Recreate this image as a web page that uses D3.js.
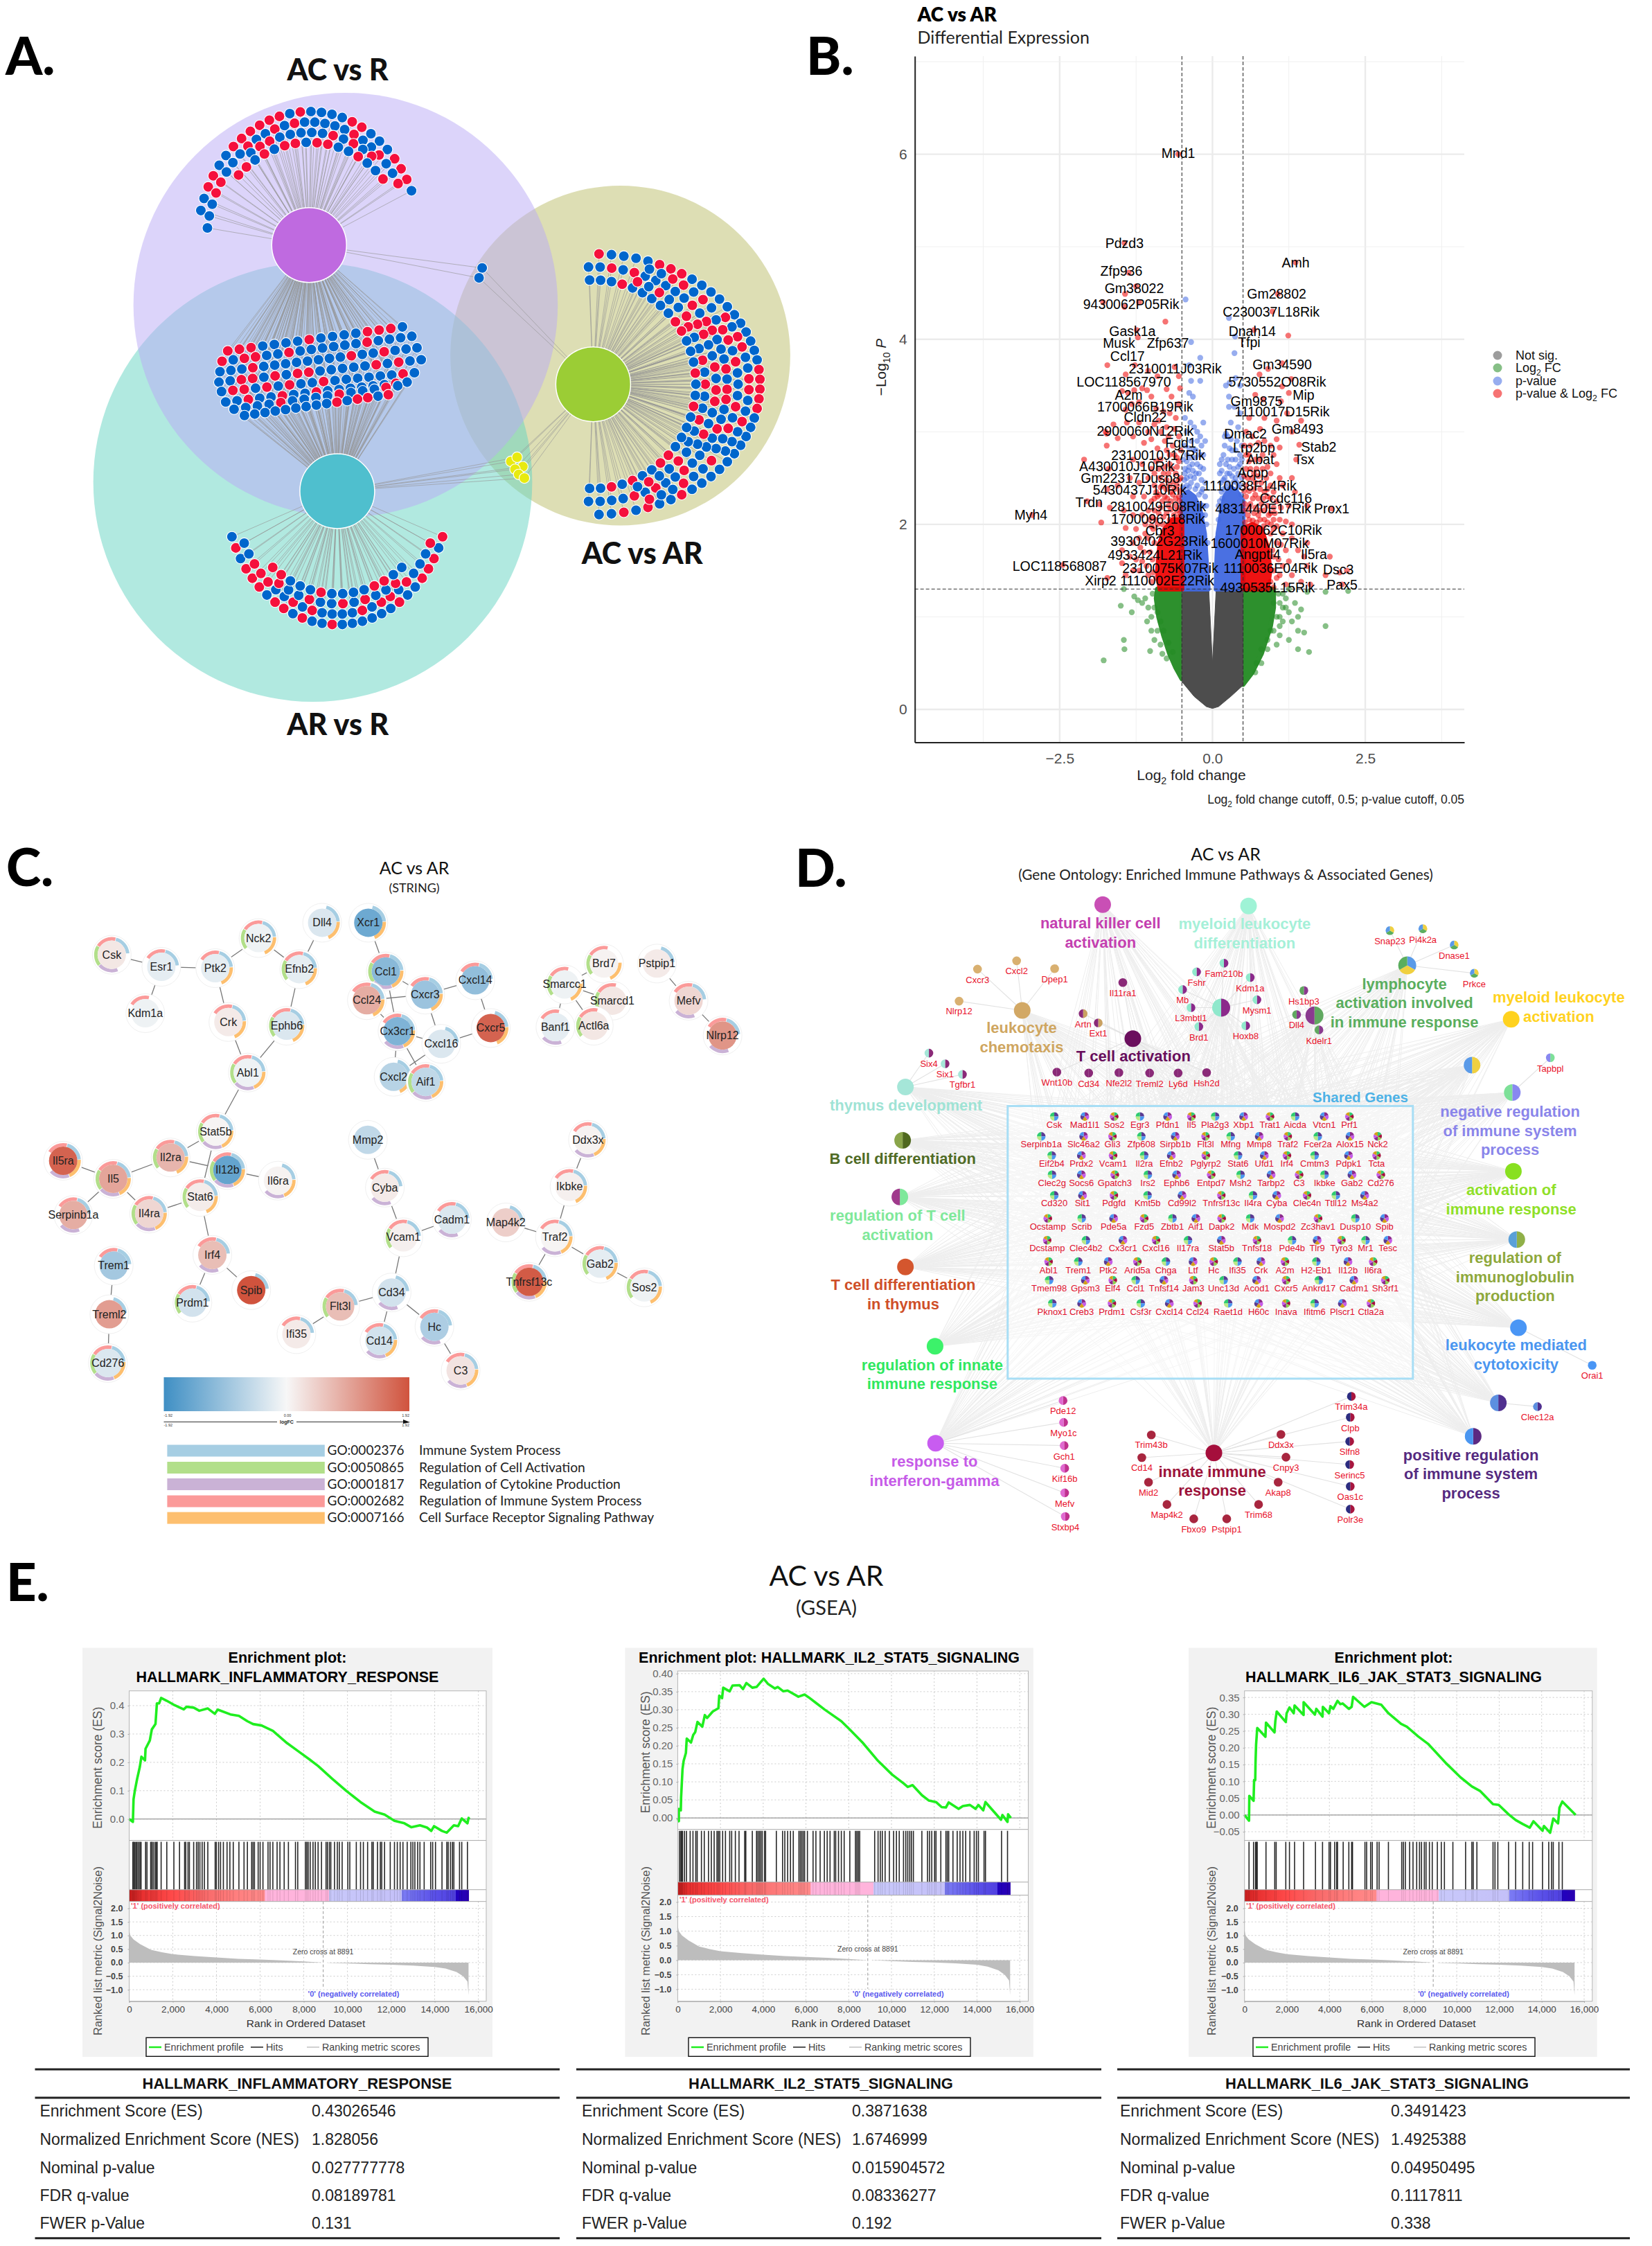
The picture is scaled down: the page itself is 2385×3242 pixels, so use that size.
<!DOCTYPE html>
<html><head><meta charset="utf-8">
<script src="https://cdn.jsdelivr.net/npm/d3@7"></script>
<style>html,body{margin:0;background:#fff}svg{display:block}text{font-family:"Liberation Sans",sans-serif}</style>
</head><body><svg id="c" width="2385" height="3242" viewBox="0 0 2385 3242"></svg>
<script>
// ---------- Panel A : up (R) / down (B) genes in each set ----------
const acrCrescent=["BBRRBBRRRRRRBRBBBBRRBBBRRRB","BBBRRBBBRBBRBRBBBBBRBBRBBR","BRRBBBBBRBRBR","RRBRBRRBRRBBRBBR"];
const sharedBlob=["RRRBBBBRBBBBRRRB","RBRRBBRBBBBBBRBBBB","BBBRBBBBBBBBRBBRBBB","BBRRBRBRRBBBBBRBRBB","BRRBRBRBBRBBBBBBRB","BBRBBRBBRBBBBBBRB","BBBBRBBBBRBBBRB","BBBBBBBBBRBRRBR"];
const arrCrescent=["BRBRRRBRRBRBBRBBBBBBRBBRRRBR","BBRRRBBRBRBBBBRBRRBRBBBR","RBBRBBRBRBBR","RRBBBRBBBBRRBB"];
const acarCrescent=["RBBBBRRRBBBBBBBBBBBRRRRRBBBBBBBBBBRBBRBRBB","RBRRBBRRBBRBBB","BRRBRBBBRBRBB","BBRBRBBBBBRBRRBBBRBRRBBRBBBBRBBRBRBBBB","RRBBRBRRBBRB","RBBRBRBBRBB","BBBRBBBBBRRBBBRBBRBBBBRRBBRBRBB","BBRRBRB","RBBRBBR","RBRBBR","BRBBRB"];
const yellowNodes=[[980,885],[992,877],[1003,895],[988,900],[995,910],[1006,917]];
const bluePairNodes=[[925,514],[919,533]];
const setTitles=[["AC vs R",648,134],["AR vs R",648,1390],["AC vs AR",1232,1062]];

// ---------- Panel B : volcano ----------
const volcanoRed=[[-.56,6.0],[-1.44,5.04],[1.36,4.83],[-1.37,4.72],[-1.25,4.57],[-1.43,4.49],[-1.79,4.40],[-1.44,4.35],[-1.2,4.4],[-.77,4.19],[-1.24,4.1],[-1.22,4.02],[-1.72,3.72],[-1.42,3.62],[-1.27,3.72],[-1.05,3.66],[-.9,3.6],[-.62,3.7],[-.55,3.6],[-.53,3.47],[-1.48,3.44],[-1.38,3.42],[-1.28,3.45],[-1.15,3.47],[-1.07,3.45],[-.75,3.46],[-.67,3.38],[-1.42,3.24],[-1.32,3.3],[-1.2,3.32],[-1.0,3.38],[-.92,3.25],[-.8,3.22],[-1.62,3.08],[-1.75,3.0],[-1.4,3.1],[-1.2,3.1],[-1.05,3.0],[-.95,3.08],[-.88,3.12],[-.75,3.05],[-.62,3.03],[-1.73,2.98],[-1.55,2.93],[-1.3,2.95],[-1.12,2.88],[-1.0,2.92],[-.9,2.82],[-.78,2.9],[-.65,2.85],[-1.73,2.85],[-2.1,2.7],[-1.7,2.6],[-1.3,2.7],[-1.15,2.65],[-1.0,2.6],[-.85,2.7],[-.7,2.65],[-.58,2.72],[-1.35,2.5],[-1.2,2.45],[-1.05,2.5],[-.95,2.42],[-.8,2.55],[-1.72,2.38],[-1.55,2.42],[-1.3,2.3],[-1.12,2.3],[-1.0,2.25],[-2.05,2.25],[-1.85,2.22],[-1.68,2.18],[-1.45,2.15],[-1.3,2.1],[-1.15,2.1],[-1.82,2.02],[-1.42,1.96],[-1.25,1.95],[-1.1,1.9],[-1.0,1.98],[-1.3,1.8],[-1.18,1.75],[-1.48,1.72],[-1.35,1.65],[-1.15,1.6],[-1.02,1.7],[-1.48,1.58],[-1.2,1.5],[-1.05,1.45],[-1.0,1.38],[-2.45,1.56],[-1.72,1.42],[-2.95,2.1],[-1.42,1.45],
[-.55,3.3],[-.6,3.15],[-.7,3.2],[-.85,3.0],[-.72,2.95],[-.55,2.95],[-.62,2.75],[-.75,2.8],[-.88,2.6],[-.72,2.55],[-.6,2.55],[-.52,2.8],[-.95,2.55],[-.82,2.42],[-.7,2.42],[-.58,2.42],[-.52,2.5],[-.9,2.3],[-.78,2.3],[-.65,2.32],[-.55,2.3],[-1.05,2.15],[-.95,2.15],[-.85,2.18],[-.72,2.2],[-.6,2.2],[-.52,2.18],[-1.1,2.0],[-.98,2.08],[-.9,2.0],[-.8,2.08],[-.7,2.05],[-.55,2.08],[-1.2,1.85],[-1.05,1.85],[-.95,1.8],[-1.12,1.7],[-.98,1.62],[-1.08,1.55],[-.97,1.48],[-.92,1.42],[-1.25,1.62],[-1.3,1.5],
[-.53,2.12],[-.58,2.15],[-.63,2.1],[-.68,2.16],[-.75,2.12],[-.82,2.0],[-.88,2.12],[-.93,2.05],[-.97,1.95],[-1.03,2.05],[-.54,2.25],[-.6,2.28],[-.68,2.25],[-.74,2.28],[-.82,2.25],[-.87,2.32],[-.95,2.28],[-.53,2.36],[-.62,2.38],[-.68,2.35],[-.76,2.38],[-.85,2.4],[-.92,2.35],[-.55,2.48],[-.64,2.46],[-.75,2.48],[-.86,2.5],[-.58,2.62],[-.66,2.6],[-.78,2.62],[-.92,2.68],[-.55,2.68],[-.7,2.75],
[1.07,4.49],[.98,4.30],[.68,4.1],[1.24,4.04],[1.14,3.74],[.91,3.68],[.77,3.62],[1.14,3.49],[1.29,3.57],[1.25,3.42],[.7,3.4],[.83,3.35],[1.12,3.33],[.6,3.15],[.85,3.15],[1.05,3.12],[1.22,3.2],[1.45,3.12],[.78,3.03],[1.3,3.0],[1.05,2.92],[.95,2.85],[1.1,2.83],[1.42,2.86],[1.0,2.75],[.82,2.75],[.7,2.7],[.6,2.68],[.9,2.62],[1.05,2.65],[1.3,2.5],[1.37,2.7],[.65,2.5],[.8,2.45],[.95,2.42],[1.15,2.42],[1.35,2.35],[.7,2.32],[.9,2.3],[1.05,2.25],[1.25,2.2],[1.55,2.2],[1.95,2.17],[.75,2.1],[.95,2.12],[1.1,2.05],[1.2,2.03],[1.3,2.0],[1.0,1.95],[1.15,1.9],[1.3,1.85],[1.55,1.8],[1.05,1.8],[1.2,1.72],[1.4,1.72],[1.5,1.65],[1.92,1.65],[1.0,1.65],[1.15,1.55],[1.55,1.55],[1.85,1.45],[2.08,1.48],[2.2,1.5],[1.3,1.45],[1.05,1.42],[1.45,1.38],[2.12,1.35],[1.6,1.35],[.95,1.38],
[.55,3.0],[.65,2.95],[.52,2.85],[.62,2.85],[.75,2.88],[.85,2.9],[.55,2.75],[.72,2.6],[.82,2.6],[.55,2.6],[.62,2.6],[.95,2.55],[1.1,2.5],[.55,2.42],[.7,2.45],[.85,2.35],[1.0,2.35],[.55,2.3],[.62,2.22],[.8,2.22],[.9,2.2],[1.0,2.18],[1.12,2.18],[.85,2.05],[1.0,2.05],[.58,2.1],[.68,2.12],[.95,1.9],[1.05,1.98],[1.12,1.78],[.98,1.72],[1.08,1.62],[1.25,1.6],[1.0,1.5],[1.1,1.45],[1.2,1.35],[1.0,1.32],
[.53,2.02],[.6,2.05],[.66,2.04],[.72,2.02],[.78,2.05],[.84,1.98],[.9,2.02],[.96,2.0],[.53,2.15],[.6,2.18],[.7,2.18],[.78,2.15],[.85,2.15],[.92,2.1],[1.02,2.12],[.53,2.22],[.66,2.28],[.75,2.28],[.83,2.28],[.95,2.28],[.52,2.36],[.6,2.36],[.68,2.38],[.78,2.38],[.9,2.38],[.58,2.5],[.75,2.52],[.88,2.5],[.52,2.52],[.68,2.55],[.6,2.75],[.78,2.7]];
const volcanoBlue=[[-.44,4.43],[.27,4.23],[-.35,3.97],[.37,4.03],[.36,3.85],[-.2,3.8],[-.38,3.72],[-.2,3.55],[-.35,3.55],[.22,3.5],[.38,3.58],[.45,3.5],[.28,3.53],[-.38,3.42],[-.32,3.38],[.27,3.38],[.27,3.27],[.36,3.27],[.45,3.2],[-.45,3.15],[-.36,3.1],[-.25,3.0],[-.15,3.1],[-.3,3.05],[-.42,3.0],[-.2,2.95],[.3,3.1],[.42,3.05],[.22,2.98],[.3,2.92],[.4,2.9],[-.35,2.9],[-.18,2.85],[-.3,2.8],[-.2,2.75],[.2,2.85],[.32,2.8],[.45,2.75],[-.42,2.75],[-.15,2.6],[-.25,2.65],[-.12,2.45],[.15,2.7],[.25,2.7],[.45,2.65],[.12,2.55],[.14,2.45],[-.1,2.2],[.1,2.2],
[-.45,2.6],[-.38,2.62],[-.32,2.58],[-.22,2.55],[-.48,2.7],[-.35,2.72],[-.28,2.72],[-.45,2.85],[-.25,2.9],[-.12,2.3],[-.18,2.35],[-.15,2.2],[-.25,2.42],[-.3,2.5],[-.42,2.5],[-.48,2.4],[-.38,2.4],[-.1,2.0],[-.12,2.1],[-.08,1.8],[.2,2.5],[.28,2.55],[.35,2.6],[.42,2.55],[.48,2.5],[.15,2.35],[.12,2.25],[.22,2.4],[.3,2.4],[.4,2.45],[.18,2.75],[.28,2.62],[.38,2.7],[.48,2.85],[.1,2.05],[.08,1.85],[.25,2.95],
[-.47,2.38],[-.42,2.42],[-.35,2.45],[-.28,2.38],[-.22,2.32],[-.2,2.22],[-.17,2.1],[-.45,2.55],[-.4,2.58],[-.27,2.55],[-.18,2.48],[-.16,2.38],[-.46,2.48],[-.36,2.52],[-.33,2.65],[-.42,2.68],[-.2,2.62],[-.27,2.8],[-.38,2.82],[-.15,2.75],[-.12,2.9],
[.47,2.32],[.42,2.4],[.35,2.46],[.25,2.45],[.18,2.38],[.16,2.28],[.13,2.15],[.45,2.42],[.38,2.5],[.32,2.52],[.24,2.55],[.18,2.48],[.15,2.58],[.22,2.65],[.32,2.7],[.42,2.62],[.48,2.7],[.2,2.95],[.38,2.8],[.12,2.65],[.28,2.82]];
const volcanoGreen=[[-1.45,1.3],[-1.28,1.22],[-1.5,1.12],[-1.22,1.18],[-1.32,1.05],[-1.1,1.2],[-1.05,1.1],[-1.0,1.0],[-1.07,.95],[-1.45,.75],[-1.44,.65],[-1.78,.53],[-1.02,.63],[-.85,.7],[-.9,.85],[-.95,.75],[-.82,.6],[-.75,.55],[-.98,1.25],[-.95,1.1],[-.9,1.05],[-.85,.95],[-.8,.85],[-.72,.72],[-.65,.62],[-1.15,1.15],[-1.0,.85],
[1.25,1.3],[1.55,1.27],[1.85,1.27],[2.22,1.28],[1.2,1.2],[1.35,1.15],[1.45,1.08],[1.15,1.1],[1.25,1.05],[1.4,1.0],[1.3,.95],[1.15,.95],[1.4,.85],[1.5,.83],[1.85,.9],[1.25,.75],[1.1,.8],[1.58,.62],[1.4,.65],[1.05,.7],[.9,.65],[.8,.5],[.7,.4],[1.0,.85],[1.1,1.0],[1.0,1.15],[1.15,1.25],[1.08,1.25],[1.1,1.15],[1.05,1.0],[.95,.85],[.9,.75],[.8,.65],[.72,.5],[1.2,1.1],[1.1,.9]];
// outlines of the saturated point clouds
const greyCloud=[[-.5,1.3],[-.06,1.3],[-.02,.75],[0,.5],[.02,.75],[.06,1.3],[.5,1.3],[.5,.26],[.3,.14],[.1,.03],[0,.01],[-.1,.03],[-.3,.14],[-.5,.3]];
const greenCloudLeft=[[-.5,1.3],[-.9,1.3],[-.92,1.2],[-.88,1.0],[-.8,.8],[-.7,.6],[-.6,.45],[-.5,.33]];
const greenCloudRight=[[.5,1.3],[1.0,1.3],[1.0,1.1],[.95,.9],[.8,.6],[.65,.4],[.5,.27]];
const blueCloudLeft=[[-.5,1.3],[-.5,2.3],[-.4,2.35],[-.3,2.3],[-.2,2.15],[-.13,1.9],[-.1,1.6],[-.07,1.3]];
const blueCloudRight=[[.5,1.3],[.5,2.25],[.4,2.35],[.3,2.4],[.2,2.3],[.14,2.1],[.09,1.9],[.07,1.6],[.06,1.3]];
const redCloudLeft=[[-.5,1.3],[-.86,1.3],[-.9,1.5],[-.86,1.8],[-.78,1.95],[-.65,2.05],[-.5,2.05]];
const redCloudRight=[[.5,1.3],[.9,1.3],[.94,1.5],[.9,1.75],[.8,1.95],[.65,2.0],[.5,1.95]];
const volcanoLabels=[["Mnd1",-.56,6.01],["Pdzd3",-1.44,5.04],["Amh",1.36,4.83],["Zfp936",-1.49,4.74],["Gm38022",-1.28,4.55],["Gm28802",1.05,4.49],["9430062P05Rik",-1.33,4.38],["C230037L18Rik",.96,4.30],["Gask1a",-1.31,4.09],["Dnah14",.65,4.09],["Musk",-1.53,3.96],["Zfp637",-.73,3.96],["Tfpi",.60,3.97],["Ccl17",-1.39,3.82],["Gm34590",1.14,3.73],["2310011J03Rik",-.61,3.68],["LOC118567970",-1.45,3.54],["5730552O08Rik",1.06,3.54],["A2m",-1.37,3.40],["Mip",1.49,3.40],["Gm9875",.72,3.33],["1700066B19Rik",-1.10,3.27],["1110017D15Rik",1.14,3.22],["Cldn22",-1.10,3.16],["Gm8493",1.39,3.03],["2900060N12Rik",-1.10,3.01],["Dmac2",.54,2.98],["Fgd1",-.52,2.88],["Lrp2bp",.68,2.83],["Stab2",1.74,2.84],["2310010J17Rik",-.89,2.75],["Abat",.78,2.70],["Tsx",1.50,2.70],["A430010J10Rik",-1.40,2.63],["Acpp",.66,2.56],["Gm22317",-1.67,2.50],["Dusp8",-.85,2.50],["1110038F14Rik",.61,2.42],["5430437J10Rik",-1.19,2.37],["Ccdc116",1.20,2.28],["Trdn",-2.02,2.24],["2810049E08Rik",-.89,2.19],["4831440E17Rik",.83,2.17],["Prox1",1.95,2.17],["Myh4",-2.97,2.10],["1700096J18Rik",-.89,2.06],["1700062C10Rik",1.0,1.94],["Cbr3",-.86,1.93],["3930402G23Rik",-.87,1.82],["1600010M07Rik",.77,1.80],["4933424L21Rik",-.94,1.67],["Angptl4",.74,1.68],["Il5ra",1.66,1.68],["LOC118568087",-2.50,1.55],["2310075K07Rik",-.69,1.53],["1110036E04Rik",.95,1.53],["Dsc3",2.06,1.51],["Xirp2",-1.83,1.39],["1110002E22Rik",-.74,1.39],["Pax5",2.12,1.35],["4930535L15Rik",.90,1.32]];
const legendNames=["Not sig.","Log2 FC","p-value","p-value & Log2 FC"];
const legendColors=["#4d4d4d","#228b22","#4169e1","#ee0000"];

// ---------- Panel C : STRING network ----------
const stringNodes=[["Csk",230,266,.1,"bpgk"],["Esr1",332,292,-.1,"bk"],["Ptk2",443,295,-.1,"bok"],["Nck2",532,230,-.05,"bogk"],["Efnb2",616,297,-.1,"bogk"],["Dll4",663,197,-.15,"bo"],["Kdm1a",299,392,-.05,"k"],["Crk",470,411,.08,"bok"],["Ephb6",590,419,-.15,"bogk"],["Abl1",510,520,-.05,"bopgk"],["Xcr1",758,197,-.75,"bo"],["Ccl1",794,302,-.6,"bopgk"],["Ccl24",755,364,.45,"bok"],["Cxcr3",875,352,-.5,"bok"],["Cxcl14",978,321,-.55,"bk"],["Cx3cr1",818,431,-.65,"bopk"],["Cxcr5",1010,424,.9,"bo"],["Cxcl16",908,458,-.15,"b"],["Cxcl2",810,529,-.35,"bo"],["Aif1",876,540,-.3,"bopgk"],["Smarcc1",1162,330,-.05,"ogk"],["Brd7",1243,285,.03,"ogk"],["Smarcd1",1260,365,.1,"gk"],["Banf1",1143,422,-.1,"pk"],["Actl6a",1222,419,.1,"gk"],["Pstpip1",1352,285,.08,"b"],["Mefv",1417,365,.2,"bpk"],["Nlrp12",1487,440,.6,"bpk"],["Stat5b",444,647,.02,"bopgk"],["Il5ra",130,710,.9,"bopk"],["Il2ra",351,703,.4,"bogk"],["Il12b",468,730,-.8,"bopgk"],["Il6ra",572,753,.03,"bop"],["Il5",233,749,.5,"bopgk"],["Stat6",412,788,.07,"bogk"],["Il4ra",307,824,.2,"bopgk"],["Serpinb1a",151,827,.45,"bpk"],["Irf4",437,913,.35,"bpk"],["Spib",517,989,1,"b"],["Prdm1",396,1016,-.2,"bgk"],["Trem1",234,936,-.45,"bk"],["Treml2",225,1041,.55,"b"],["Cd276",222,1146,-.15,"bopgk"],["Mmp2",757,665,-.3,""],["Cyba",792,768,.08,"bpk"],["Vcam1",830,875,.05,"bgk"],["Cadm1",930,837,-.15,"bpk"],["Cd34",806,994,-.2,"bp"],["Flt3l",700,1024,.35,"bgk"],["Ifi35",610,1084,.08,"bk"],["Cd14",781,1098,-.2,"bopk"],["Hc",894,1068,-.4,"bpk"],["C3",948,1162,.12,"bopk"],["Ddx3x",1210,665,.03,"bopk"],["Ikbke",1172,766,.05,"bok"],["Map4k2",1041,843,.25,"b"],["Traf2",1142,875,.02,"bopk"],["Gab2",1235,932,-.1,"bogk"],["Sos2",1326,983,-.05,"bogk"],["Tnfrsf13c",1089,971,.95,"bopgk"]];
const stringEdges="Csk-Esr1 Esr1-Kdm1a Esr1-Ptk2 Ptk2-Nck2 Nck2-Efnb2 Efnb2-Dll4 Ptk2-Crk Efnb2-Ephb6 Crk-Abl1 Ephb6-Abl1 Abl1-Stat5b Stat5b-Il2ra Stat5b-Stat6 Il2ra-Il5 Il2ra-Il12b Il12b-Il6ra Il5-Il5ra Il5-Serpinb1a Il5-Il4ra Il4ra-Stat6 Stat6-Irf4 Irf4-Spib Irf4-Prdm1 Trem1-Treml2 Treml2-Cd276 Xcr1-Ccl1 Ccl1-Cxcr3 Ccl1-Cx3cr1 Ccl24-Cxcr3 Ccl24-Cx3cr1 Cxcr3-Cxcl14 Cxcr3-Cxcl16 Cxcl14-Cxcr5 Cxcr5-Cxcl16 Cx3cr1-Cxcl16 Cx3cr1-Cxcl2 Cx3cr1-Aif1 Cxcl16-Cxcl2 Smarcc1-Brd7 Smarcc1-Smarcd1 Smarcc1-Banf1 Smarcc1-Actl6a Brd7-Smarcd1 Smarcd1-Actl6a Banf1-Actl6a Pstpip1-Mefv Mefv-Nlrp12 Mmp2-Cyba Cyba-Vcam1 Vcam1-Cadm1 Vcam1-Cd34 Cd34-Flt3l Flt3l-Ifi35 Cd34-Cd14 Cd34-Hc Hc-C3 Ddx3x-Ikbke Ikbke-Traf2 Map4k2-Traf2 Traf2-Gab2 Traf2-Tnfrsf13c Gab2-Sos2".split(" ");
const goIds=["GO:0002376","GO:0050865","GO:0001817","GO:0002682","GO:0007166"];
const goNames=["Immune System Process","Regulation of Cell Activation","Regulation of Cytokine Production","Regulation of Immune System Process","Cell Surface Receptor Signaling Pathway"];
const goColors=["#a6cee3","#b2df8a","#cab2d6","#fb9a99","#fdbf6f"];

// ---------- Panel D : GO network ----------
const goTerms=[["natural killer cell|activation",585,158,["#c94fb5"],"#c43fb0",581,198],
["myeloid leukocyte|differentiation",846,161,["#9ff3d6"],"#a5f0d8",839,200],
["lymphocyte|activation involved|in immune response",1130,289,["#5a9ae8","#f0d040","#5aae5e"],"#5aae5e",1125,329],
["myeloid leukocyte|activation",1316,405,["#ffd21f"],"#ffd21f",1401,358],
["leukocyte|chemotaxis",441,386,["#d2a865"],"#cfa660",440,424],
["T cell activation",639,447,["#6b0f5e"],"#680e5c",640,485],
["thymus development",232,551,["#a5e6d8"],"#9fe3d5",233,591],
["B cell differentiation",227,666,["#50691f","#8aa54a"],"#4f6b25",227,705],
["regulation of T cell|activation",222,788,["#7ee89a","#a03a8c"],"#7fe89a",218,828],
["T cell differentiation|in thymus",232,939,["#d4562e"],"#cf4f28",228,978],
["regulation of innate|immune response",285,1110,["#3cf26a"],"#2fe860",280,1150],
["response to|interferon-gamma",286,1319,["#c85cf0"],"#c65be8",284,1358],
["innate immune|response",784,1340,["#a50f3c"],"#9c1239",781,1380],
["positive regulation|of immune system|process",1248,1304,["#5c2a82","#4a96f0"],"#552a80",1244,1344],
["leukocyte mediated|cytotoxicity",1329,1070,["#4a96f5"],"#4a96f0",1325,1108],
["regulation of|immunoglobulin|production",1326,880,["#90b048","#5aa0d8"],"#8ea83c",1323,919],
["activation of|immune response",1320,733,["#88e020"],"#8fe028",1316,773],
["negative regulation|of immune system|process",1318,563,["#8888f0","#7de098"],"#8a85ea",1314,604],
["",1293,1232,["#50308f","#5c8fe0"],"#000",0,0],
["",1246,504,["#f0d040","#5a9ae8"],"#000",0,0],
["",797,380,["#8b2a8b","#8fe8cc"],"#000",0,0],
["",964,397,["#60a860","#8a3a8f"],"#000",0,0]];
const satellites=[
[4,["#d9b070"],[["Cxcr3",361,297,320],["Cxcl2",431,279,301],["Dpep1",499,296,319],["Nlrp12",328,366,388]]],
[5,["#8a2a78","#8a2a78"],[["Il11ra1",621,326,348],["Wnt10b",503,519,542],["Cd34",560,521,544],["Nfe2l2",614,520,543],["Treml2",669,521,544],["Ly6d",720,521,544],["Hsh2d",771,520,543]]],
[5,["#c9a060","#8a2a78"],[["Artn",550,393,416],["Ext1",577,413,435]]],
[6,["#8a2a78","#a5e6d8"],[["Six4",274,478,501],["Six1",303,501,524],["Tgfbr1",334,524,546]]],
[20,["#8b2a8b","#8fe8cc"],[["Fam210b",802,284,307],["Fshr",753,303,326],["Kdm1a",849,315,338],["Mb",728,341,364],["Mysm1",861,363,386],["L3mbtl1",743,380,403],["Hoxb8",841,419,442],["Brd1",757,421,444]]],
[21,["#8a3a8f","#60a860"],[["Hs1bp3",945,343,366],["Dll4",932,395,418],["Kdelr1",972,428,451]]],
[2,["#f0d040","#5aae5e","#5a9ae8"],[["Snap23",1099,214,236],["Pi4k2a",1158,210,233],["Dnase1",1214,245,268],["Prkce",1250,306,329]]],
[17,["#7de098","#8888f0"],[["Tapbpl",1386,488,511]]],
[14,["#4a96f5"],[["Orai1",1461,1151,1173]]],
[18,["#50308f","#5c8fe0"],[["Clec12a",1363,1240,1263]]],
[11,["#c0318f","#e06ad0"],[["Pde12",514,1227,1249],["Myo1c",515,1274,1297],["Gch1",516,1324,1347],["Kif16b",517,1373,1396],["Mefv",517,1426,1449],["Stxbp4",518,1477,1500]]],
[12,["#a8263f"],[["Trim43b",672,1301,1323],["Cd14",655,1350,1372],["Mid2",667,1403,1425],["Map4k2",700,1451,1473],["Fbxo9",748,1482,1505],["Pstpip1",807,1482,1505],["Trim68",864,1451,1473],["Akap8",899,1403,1425],["Cnpy3",913,1349,1371],["Ddx3x",904,1300,1322]]],
[12,["#a8163f","#2c2c80"],[["Trim34a",1030,1218,1240],["Clpb",1028,1263,1286],["Slfn8",1027,1315,1337],["Serinc5",1027,1365,1388],["Oas1c",1028,1412,1435],["Polr3e",1028,1461,1483]]]];
const sharedRows=[[118,162,[["Csk",250],["Mad1l1",358],["Sos2",462],["Egr3",553],["Pfdn1",651],["Il5",735],["Pla2g3",819],["Xbp1",920],["Trat1",1013],["Aicda",1102],["Vtcn1",1205],["Prf1",1294]]],
[225,268,[["Serpinb1a",204],["Slc46a2",354],["Gli3",456],["Zfp608",558],["Sirpb1b",678],["Flt3l",785],["Mfng",874],["Mmp8",975],["Traf2",1076],["Fcer2a",1182],["Alox15",1296],["Nck2",1394]]],
[328,372,[["Eif2b4",241],["Prdx2",346],["Vcam1",458],["Il2ra",568],["Efnb2",664],["Pglyrp2",786],["Stat6",900],["Ufd1",993],["Irf4",1073],["Cmtm3",1171],["Pdpk1",1291],["Tcta",1390]]],
[432,476,[["Clec2g",242],["Socs6",346],["Gpatch3",464],["Irs2",581],["Ephb6",683],["Entpd7",805],["Msh2",909],["Tarbp2",1017],["C3",1116],["Ikbke",1206],["Gab2",1303],["Cd276",1405]]],
[543,586,[["Cd320",250],["Sit1",350],["Pdgfd",461],["Kmt5b",580],["Cd99l2",702],["Tnfrsf13c",841],["Il4ra",953],["Cyba",1037],["Clec4n",1144],["Ttll12",1246],["Ms4a2",1348]]],
[667,710,[["Ocstamp",227],["Scrib",347],["Pde5a",460],["Fzd5",568],["Zbtb1",668],["Aif1",751],["Dapk2",842],["Mdk",943],["Mospd2",1047],["Zc3hav1",1183],["Dusp10",1315],["Spib",1418]]],
[785,828,[["Dcstamp",225],["Clec4b2",362],["Cx3cr1",493],["Cxcl16",610],["Il17ra",723],["Stat5b",841],["Tnfsf18",967],["Pde4b",1091],["Tlr9",1180],["Tyro3",1266],["Mr1",1351],["Tesc",1430]]],
[900,945,[["Abl1",230],["Trem1",335],["Ptk2",441],["Arid5a",544],["Chga",645],["Ltf",741],["Hc",814],["Ifi35",898],["Crk",981],["A2m",1066],["H2-Eb1",1177],["Il12b",1289],["Il6ra",1378]]],
[1000,1045,[["Tmem98",232],["Gpsm3",360],["Elf4",457],["Ccl1",538],["Tnfsf14",638],["Jam3",742],["Unc13d",849],["Acod1",966],["Cxcr5",1070],["Ankrd17",1186],["Cadm1",1310],["Sh3rf1",1421]]],
[1125,1170,[["Pknox1",243],["Creb3",347],["Prdm1",454],["Csf3r",556],["Cxcl14",657],["Ccl24",757],["Raet1d",865],["H60c",973],["Inava",1070],["Ifitm6",1171],["Plscr1",1269],["Ctla2a",1370]]]];
const genePiePalette=["#5b3a92","#8fd14f","#4a96f0","#8b2a8b","#b8e986","#c65be8","#2ecc71","#d4a017","#a50f3c"];

// ---------- Panel E : GSEA ----------
const esInflammatory=[[0,0],[170,-.01],[200,.07],[260,.10],[360,.14],[490,.185],[560,.22],[725,.207],[750,.248],[945,.277],[1037,.316],[1205,.335],[1270,.408],[1374,.408],[1465,.427],[1724,.417],[2047,.403],[2500,.387],[2630,.396],[2955,.393],[3214,.382],[3603,.39],[3927,.371],[4056,.386],[4640,.369],[5028,.364],[5417,.345],[5676,.335],[6065,.330],[6583,.311],[7232,.268],[7750,.239],[8268,.21],[8657,.187],[9305,.142],[9953,.099],[10601,.06],[11250,.026],[11703,.016],[12156,-.006],[12610,-.015],[12934,-.029],[13323,-.022],[13647,-.03],[13841,-.042],[13971,-.025],[14334,-.042],[14554,-.048],[14878,-.022],[15072,-.025],[15240,.002],[15500,-.015],[15552,.004],[15590,0]];
const esIl2=[[0,0],[53,-.009],[53,.025],[145,.021],[158,.055],[225,.135],[278,.158],[383,.18],[423,.22],[621,.209],[727,.23],[820,.238],[925,.266],[1150,.253],[1269,.285],[1375,.277],[1639,.295],[1904,.304],[1943,.339],[2075,.332],[2128,.361],[2432,.351],[2565,.367],[2895,.368],[3054,.357],[3212,.374],[3490,.361],[3688,.363],[4019,.386],[4217,.372],[4548,.359],[4680,.363],[4944,.351],[5142,.353],[5645,.336],[5936,.342],[6134,.334],[6465,.319],[6861,.301],[7654,.268],[8051,.245],[8646,.209],[9373,.158],[10034,.12],[10563,.096],[10761,.086],[10986,.091],[11422,.063],[11753,.048],[12084,.044],[12348,.03],[12546,.029],[12678,.043],[13140,.025],[13339,.033],[13669,.036],[13934,.025],[14066,.036],[14291,.021],[14397,.044],[15124,-.005],[15190,.008],[15428,-.011],[15454,.01],[15586,0]];
const esIl6=[[0,0],[213,-.017],[226,.057],[426,.042],[453,.104],[506,.104],[520,.157],[546,.21],[600,.259],[986,.233],[1012,.275],[1412,.246],[1452,.279],[1518,.308],[1945,.277],[1985,.303],[2118,.32],[2318,.303],[2358,.326],[2784,.298],[2784,.336],[3317,.299],[3383,.316],[3676,.293],[3690,.322],[3983,.303],[4049,.324],[4183,.316],[4382,.34],[4515,.33],[4622,.332],[4915,.316],[5048,.322],[5115,.352],[5648,.322],[5981,.336],[6447,.328],[6780,.303],[7379,.271],[7646,.263],[8179,.234],[8645,.212],[9511,.153],[10177,.112],[10710,.085],[11109,.071],[11708,.032],[11975,.03],[12441,.002],[12774,-.015],[13107,-.027],[13440,-.038],[13614,-.019],[14040,-.047],[14107,-.033],[14400,-.053],[14547,-.011],[14773,-.025],[14840,.022],[14973,.04],[15600,0]];
const hitsInflammatory=[168,207,259,311,363,428,492,544,752,816,985,1037,1102,1179,1231,1283,1464,1724,2048,2307,2540,2592,2696,2760,2955,3084,3162,3240,3344,3447,3603,3940,3992,4095,4186,4316,4484,4614,4769,5028,5262,5417,5612,5676,5741,5910,6000,6130,6363,6454,6584,6778,6908,7102,7296,7620,7724,8074,8139,8204,8294,8424,8528,8657,8813,9020,9085,9176,9240,9409,9539,9629,9759,10018,10109,10407,10601,10731,10925,11120,11184,11379,11508,11573,11703,11962,12156,12286,12416,12545,12740,12908,12999,13090,13219,13323,13517,13815,13906,14036,14334,14554,14619,14723,14813,14878,15137,15240,15500];
const hitsIl2=[79,145,185,225,317,410,582,714,846,912,1110,1243,1441,1573,1705,1838,1904,1970,2102,2234,2432,2525,2697,2869,3133,3186,3490,3688,3754,3821,3887,3953,4059,4111,4614,4905,5010,5143,5275,5407,5671,5737,5804,5870,5936,6068,6332,6465,6663,6861,6993,7126,7324,7390,7522,7654,7787,8051,8315,8381,8448,8514,9214,9373,9479,9571,9703,9902,10100,10232,10364,10563,10669,10761,10854,10933,11025,11422,11686,11779,11885,12017,12083,12308,12546,12612,12678,12876,13075,13207,13339,13471,13669,13868,13974,14066,14330,14397,15150,15428];
const hitsIl6=[213,426,520,559,600,1012,1425,1492,1945,2118,2358,2784,3343,3676,3983,4049,4249,4342,4382,4649,4915,5048,5088,5674,5754,5941,6021,6247,6341,6780,7406,7486,7579,7779,7939,8112,8245,8339,8472,8552,8712,8845,9085,9271,9418,9817,10416,10709,10776,10949,11708,11801,11935,12441,12774,13107,13413,13573,14040,14333,14466,14546,14812,14972];
const metricCurve=[[0,1.2],[50,1.0],[200,.85],[500,.68],[1000,.47],[1500,.38],[2000,.31],[3000,.24],[4000,.19],[5000,.14],[6000,.11],[7000,.08],[8000,.04],[8891,0],[10000,-.03],[11000,-.06],[12000,-.08],[13000,-.11],[14000,-.16],[14500,-.22],[15000,-.35],[15300,-.5],[15500,-.7],[15550,-1.2]];
const rankBarStops=[[0,"#c01c1c"],[500,"#e62e2e"],[2000,"#ff4a4a"],[3500,"#f86a6a"],[5000,"#ff8080"],[6200,"#ff8a8a"],[6230,"#ffb4dc"],[9150,"#ffb4dc"],[9160,"#c8c8fa"],[12480,"#c4c0f8"],[12490,"#7c7cf4"],[14000,"#5a50e8"],[14950,"#5040e0"],[14960,"#2000c0"],[15570,"#2a00b0"]];
const rankTicks=d3.range(0,16001,2000);
const metricTicks=[2,1.5,1,.5,0,-.5,-1];
const tableLabels=["Enrichment Score (ES)","Normalized Enrichment Score (NES)","Nominal p-value","FDR q-value","FWER p-Value"];
const tableInflammatory=["0.43026546","1.828056","0.027777778","0.08189781","0.131"];
const tableIl2=["0.3871638","1.6746999","0.015904572","0.08336277","0.192"];
const tableIl6=["0.3491423","1.4925388","0.04950495","0.1117811","0.338"];

// ===================================================================
const svg=d3.select("#c");
function T(g,x,y,s,o={}){const t=g.append("text").attr("x",x).attr("y",y).text(s);
 for(const k in o)t.style(k,o[k]);return t;}
const big={"font-family":"Lato,sans-serif","font-weight":"900","font-size":"76px",fill:"#000"};
[["A.",8,108],["B.",1164,108],["C.",9,1279],["D.",1148,1280],["E.",9,2311]].forEach(d=>T(svg,d[1],d[2],d[0],big));

// ---- A ----
(function(){
 const X=d3.scaleLinear([0,1568],[0,1180]),Y=d3.scaleLinear([0,1568],[0,1180]);
 const sets=[[1190,682,326,"rgb(187,189,105)"],[600,925,421,"rgb(99,211,193)"],[663,585,407,"rgb(185,169,245)"]];
 const g=svg.append("g");
 g.selectAll("circle.set").data(sets).join("circle").attr("cx",d=>X(d[0])).attr("cy",d=>Y(d[1])).attr("r",d=>X(d[2])).attr("fill",d=>d[3]).attr("opacity",.5);
 const hubM=[593,470],hubG=[1138,737],hubT=[647,942];
 function crescent(hub,rows,geo){const out=[];rows.forEach((s,i)=>{const [rx,ry,a0,a1]=geo[i];const n=s.length;
   for(let j=0;j<n;j++){const t=(a0+(a1-a0)*j/(n-1))*Math.PI/180;out.push({x:hub[0]+rx*Math.cos(t),y:hub[1]-ry*Math.sin(t),c:s[j],h:[hub]});}});return out;}
 let dots=[];
 dots=dots.concat(crescent(hubM,acrCrescent,[[215,256,165,24],[197,236,172,30],[195,216,125,52],[185,197,137,40]]));
 dots=dots.concat(crescent(hubT,arrCrescent,[[215,256,200,340],[197,236,205,335],[195,216,235,305],[185,197,228,312]]));
 dots=dots.concat(crescent(hubG,acarCrescent,[[320,250,88,-88],[299,242,32,-32],[278,233,32,-32],[257,225,92,-92],[236,217,32,-32],[215,208,32,-32],[197,200,92,-92],[288,238,68,38],[288,238,-38,-68],[227,212,68,38],[227,212,-38,-68]]));
 const blobEnds=[[437,673,772,627],[426,693,790,645],[422,713,800,667],[420,733,808,690],[425,751,795,715],[433,771,781,733],[449,785,763,740],[469,797,745,757]];
 sharedBlob.forEach((s,i)=>{const e=blobEnds[i],n=s.length;for(let j=0;j<n;j++){const f=j/(n-1);dots.push({x:e[0]+(e[2]-e[0])*f,y:e[1]+(e[3]-e[1])*f,c:s[j],h:[hubM,hubT]});}});
 yellowNodes.forEach(d=>dots.push({x:d[0],y:d[1],c:"Y",h:[hubT,hubG]}));
 bluePairNodes.forEach(d=>dots.push({x:d[0],y:d[1],c:"B",h:[hubM,hubG]}));
 const links=dots.flatMap(d=>d.h.map(h=>({d,h})));
 g.selectAll("line").data(links).join("line").attr("x1",l=>X(l.d.x)).attr("y1",l=>Y(l.d.y)).attr("x2",l=>X(l.h[0])).attr("y2",l=>Y(l.h[1])).attr("stroke","#969696").attr("stroke-width",.9).attr("opacity",.7);
 const col={B:"#0066cc",R:"#f5103c",Y:"#e8ea10"};
 g.selectAll("circle.dot").data(dots).join("circle").attr("cx",d=>X(d.x)).attr("cy",d=>Y(d.y)).attr("r",7.6).attr("fill",d=>col[d.c]).attr("stroke","#fff").attr("stroke-width",1.1);
 g.selectAll("circle.hub").data([[hubM,"#bf6ae0"],[hubG,"#9bcd35"],[hubT,"#4fbfce"]]).join("circle").attr("cx",d=>X(d[0][0])).attr("cy",d=>Y(d[0][1])).attr("r",54).attr("fill",d=>d[1]).attr("stroke","#fff").attr("stroke-width",1.5);
 setTitles.forEach(d=>T(g,X(d[1]),Y(d[2])+15,d[0],{"font-family":"Lato,sans-serif","font-weight":"900","font-size":"43px","text-anchor":"middle",fill:"#111"}));
})();

// ---- B ----
(function(){
 const x=d3.scaleLinear([-4.87,4.12],[1320.7,2114]),y=d3.scaleLinear([-.356,7.06],[1071.5,81]);
 const g=svg.append("g");
 [-3.75,-1.25,1.25,3.75].forEach(v=>g.append("line").attr("x1",x(v)).attr("x2",x(v)).attr("y1",81).attr("y2",1071.5).attr("stroke","#f0f0f0").attr("stroke-width",1));
 [-2.5,0,2.5].forEach(v=>g.append("line").attr("x1",x(v)).attr("x2",x(v)).attr("y1",81).attr("y2",1071.5).attr("stroke","#ebebeb").attr("stroke-width",2.4));
 [1,3,5,7].forEach(v=>g.append("line").attr("y1",y(v)).attr("y2",y(v)).attr("x1",1320.7).attr("x2",2114).attr("stroke","#f0f0f0").attr("stroke-width",1));
 [0,2,4,6].forEach(v=>g.append("line").attr("y1",y(v)).attr("y2",y(v)).attr("x1",1320.7).attr("x2",2114).attr("stroke","#ebebeb").attr("stroke-width",2.4));
 const poly=d3.line().x(d=>x(d[0])).y(d=>y(d[1])).curve(d3.curveLinearClosed);
 const clouds=[[greenCloudLeft,"#228b22",.95],[greenCloudRight,"#228b22",.95],[greyCloud,"#4d4d4d",1],[blueCloudLeft,"#4169e1",.95],[blueCloudRight,"#4169e1",.95],[redCloudLeft,"#ee0000",.92],[redCloudRight,"#ee0000",.92]];
 g.selectAll("path.cloud").data(clouds).join("path").attr("d",d=>poly(d[0])).attr("fill",d=>d[1]).attr("stroke",d=>d[1]).attr("stroke-width",d=>d[1]=="#4d4d4d"?1:7).attr("stroke-linejoin","round").attr("opacity",d=>d[2]);
 [[volcanoGreen,"#228b22"],[volcanoBlue,"#4169e1"],[volcanoRed,"#ee0000"]].forEach(s=>{
  g.append("g").selectAll("circle").data(s[0]).join("circle").attr("cx",d=>x(d[0])).attr("cy",d=>y(d[1])).attr("r",4.2).attr("fill",s[1]).attr("opacity",.55);});
 // cutoffs
 [-.5,.5].forEach(v=>g.append("line").attr("x1",x(v)).attr("x2",x(v)).attr("y1",81).attr("y2",1071.5).attr("stroke","#333").attr("stroke-width",1.1).attr("stroke-dasharray","5 3"));
 g.append("line").attr("y1",y(1.3)).attr("y2",y(1.3)).attr("x1",1320.7).attr("x2",2114).attr("stroke","#333").attr("stroke-width",1.1).attr("stroke-dasharray","5 3");
 const ax=g.append("g").attr("transform","translate(0,1071.5)").call(d3.axisBottom(x).tickValues([-2.5,0,2.5]).tickFormat(d3.format(".1f")).tickSize(0).tickPadding(16));
 const ay=g.append("g").attr("transform","translate(1320.7,0)").call(d3.axisLeft(y).tickValues([0,2,4,6]).tickFormat(d3.format("d")).tickSize(0).tickPadding(11));
 [ax,ay].forEach(a=>{a.select(".domain").attr("stroke","#222").attr("stroke-width",2);a.selectAll("text").style("font-size","21px").attr("fill","#4d4d4d").style("font-family","Liberation Sans");});
 g.selectAll("text.lbl").data(volcanoLabels).join("text").attr("x",d=>x(d[1])).attr("y",d=>y(d[2])).attr("text-anchor","middle").attr("dominant-baseline","central").style("font-size","19.5px").attr("fill","#000").text(d=>d[0]);
 T(g,1324.5,31,"AC vs AR",{"font-family":"Lato,sans-serif","font-weight":"800","font-size":"28px"});
 T(g,1324.5,63,"Differential Expression",{"font-family":"Lato,sans-serif","font-size":"25px",fill:"#222"});
 function sub(t,a,b,c,fs){t.append("tspan").text(a);t.append("tspan").text(b).attr("dy",fs*.3).style("font-size",fs*.68+"px");t.append("tspan").text(c).attr("dy",-fs*.3);return t;}
 sub(T(g,1720,1126,"",{"font-size":"21px","text-anchor":"middle",fill:"#222"}),"Log","2"," fold change",21);
 const yt=T(g,0,0,"",{"font-size":"21px","text-anchor":"middle",fill:"#222"}).attr("transform","translate(1279,530) rotate(-90)");
 yt.append("tspan").text("\u2212Log");yt.append("tspan").text("10").attr("dy",6).style("font-size","14px");yt.append("tspan").text(" ").attr("dy",-6);yt.append("tspan").text("P").style("font-style","italic");
 sub(T(g,2114,1160,"",{"font-size":"17.5px","text-anchor":"end",fill:"#222"}),"Log","2"," fold change cutoff, 0.5; p-value cutoff, 0.05",17.5);
 legendNames.forEach((n,i)=>{const ly=[513,531,550,568][i];
  g.append("circle").attr("cx",2162).attr("cy",ly).attr("r",6.5).attr("fill",legendColors[i]).attr("opacity",.55);
  const t=T(g,2188,ly+6,"",{"font-size":"18px",fill:"#111"});
  const m=n.match(/^(.*Log)2(.*)$/);if(m)sub(t,m[1],"2",m[2],18);else t.text(n);});
})();

// ---- C ----
(function(){
 const X=d3.scaleLinear([0,1568],[0,1100]),Y=d3.scaleLinear([0,1568],[1200,2250]);
 const g=svg.append("g");
 const fc=d3.scaleLinear([-1,0,1],["#3f8fc4","#f7f7f7","#d0533d"]);
 const byName=new Map(stringNodes.map(d=>[d[0],d]));
 T(g,598,1262,"AC vs AR",{"font-family":"Lato,sans-serif","font-size":"25px","text-anchor":"middle",fill:"#111"});
 T(g,598,1288,"(STRING)",{"font-family":"Lato,sans-serif","font-size":"18px","text-anchor":"middle",fill:"#222"});
 stringEdges.forEach(e=>{const [a,b]=e.split("-").map(n=>byName.get(n));
  g.append("line").attr("x1",X(a[1])).attr("y1",Y(a[2])).attr("x2",X(b[1])).attr("y2",Y(b[2])).attr("stroke","#777").attr("stroke-width",1.3);});
 const colorOf={b:goColors[0],g:goColors[1],p:goColors[2],k:goColors[3],o:goColors[4]};
 const startDeg={b:15,o:87,p:159,g:231,k:303};
 const arc=d3.arc().innerRadius(20.5).outerRadius(25.5);
 stringNodes.forEach(d=>{const n=g.append("g").attr("transform",`translate(${X(d[1])},${Y(d[2])})`);
  n.append("circle").attr("r",28).attr("fill","#fff").attr("stroke","#f0f0f0").attr("stroke-width",1);
  [...d[4]].forEach(k=>n.append("path").attr("d",arc({startAngle:startDeg[k]*Math.PI/180,endAngle:(startDeg[k]+70)*Math.PI/180})).attr("fill",colorOf[k]));
  n.append("circle").attr("r",20.5).attr("fill",fc(d[3]));
  n.append("text").attr("text-anchor","middle").attr("dominant-baseline","central").style("font-size","16px").attr("fill","#222").text(d[0]);});
 // colour bar
 const grad=svg.append("defs").append("linearGradient").attr("id","fcg");
 [[0,"#3f8fc4"],[.5,"#f7f7f7"],[1,"#d0533d"]].forEach(s=>grad.append("stop").attr("offset",s[0]).attr("stop-color",s[1]));
 g.append("rect").attr("x",236.5).attr("y",1988).attr("width",354.5).attr("height",49).attr("fill","url(#fcg)");
 [["-1.92",236.5,"start"],["0.00",415,"middle"],["1.92",591,"end"]].forEach(d=>T(g,d[1],2045,d[0],{"font-size":"5.5px","text-anchor":d[2],fill:"#333"}));
 g.append("line").attr("x1",236.5).attr("x2",400).attr("y1",2052.5).attr("y2",2052.5).attr("stroke","#333");
 g.append("line").attr("x1",428).attr("x2",586).attr("y1",2052.5).attr("y2",2052.5).attr("stroke","#333");
 g.append("path").attr("d",d3.line()([[582,2049],[592,2053],[582,2055]])).attr("fill","#111");
 T(g,414,2055,"logFC",{"font-size":"7px","text-anchor":"middle","font-weight":"bold",fill:"#222"});
 [["-1.92",236.5,"start"],["1.92",591,"end"]].forEach(d=>T(g,d[1],2059,d[0],{"font-size":"5.5px","text-anchor":d[2],fill:"#333"}));
 const ly=[2085.5,2110,2134,2158.5,2182.6];
 goIds.forEach((id,i)=>{g.append("rect").attr("x",241.4).attr("y",ly[i]).attr("width",227.4).attr("height",17).attr("fill",goColors[i]);
  T(g,472.5,ly[i]+14.5,id,{"font-family":"Lato,sans-serif","font-size":"19px",fill:"#222"});
  T(g,605,ly[i]+14.5,goNames[i],{"font-family":"Lato,sans-serif","font-size":"19.3px",fill:"#222"});});
})();

// ---- D ----
(function(){
 const X=d3.scaleLinear([0,1568],[1120,2385]),Y=d3.scaleLinear([0,1568],[1200,2250]);
 const SX=d3.scaleLinear([0,1568],[1420,2060]),SY=d3.scaleLinear([0,1568],[1580,2000]);
 const g=svg.append("g");
 T(g,1769.5,1242,"AC vs AR",{"font-family":"Lato,sans-serif","font-size":"25px","text-anchor":"middle",fill:"#111"});
 T(g,1769.5,1270,"(Gene Ontology: Enriched Immune Pathways & Associated Genes)",{"font-family":"Lato,sans-serif","font-size":"20.8px","text-anchor":"middle",fill:"#222"});
 const genes=sharedRows.flatMap(r=>r[2].map(d=>({name:d[0],x:SX(d[1]),y:SY(r[0]),ly:SY(r[1])})));
 // mesh of term-gene memberships behind everything
 const mesh=g.append("g").attr("stroke","#eeeeee").attr("stroke-width",1);
 genes.forEach((d,i)=>goTerms.forEach((t,j)=>{if((i+j)%2==0)mesh.append("line").attr("x1",d.x).attr("y1",d.y).attr("x2",X(t[1])).attr("y2",Y(t[2]));}));
 const arc=d3.arc().innerRadius(0),pie=d3.pie().value(1).sort(null);
 function pieAt(x,y,r,cols){const n=g.append("g").attr("transform",`translate(${x},${y})`);
  n.selectAll("path").data(pie(cols)).join("path").attr("d",d=>arc.outerRadius(r)(d)).attr("fill",d=>d.data);}
 satellites.forEach(s=>s[2].forEach(d=>g.append("line").attr("x1",X(d[1])).attr("y1",Y(d[2])).attr("x2",X(goTerms[s[0]][1])).attr("y2",Y(goTerms[s[0]][2])).attr("stroke","#e2e2e2").attr("stroke-width",1.1)));
 g.append("rect").attr("x",1454.8).attr("y",1596.5).attr("width",585).attr("height",393.5).attr("fill","#fff").attr("fill-opacity",.45).attr("stroke","#a8def5").attr("stroke-width",3);
 T(g,1964,1591,"Shared Genes",{"font-weight":"bold","font-size":"20.5px","text-anchor":"middle",fill:"#4db2e6"});
 goTerms.forEach(t=>{pieAt(X(t[1]),Y(t[2]),t[3].length>2?13:(t[0]==""&&t[1]>700&&t[1]<1000?13:12),t[3]);
  if(t[0])t[0].split("|").forEach((l,i)=>T(g,X(t[5]),Y(t[6]+i*41.3),l,{"font-weight":"bold","font-size":"22px","text-anchor":"middle","dominant-baseline":"central",fill:t[4]}));});
 satellites.forEach(s=>s[2].forEach(d=>{pieAt(X(d[1]),Y(d[2]),6.3,s[1]);
  T(g,X(d[1]),Y(d[3]),d[0],{"font-size":"13px","text-anchor":"middle","dominant-baseline":"central",fill:"#e8102a"});}));
 genes.forEach((d,i)=>{const cols=d3.range(4+i%3).map(j=>genePiePalette[(i*3+j*2)%9]);pieAt(d.x,d.y,6.2,cols);
  T(g,d.x,d.ly,d.name,{"font-size":"13px","text-anchor":"middle","dominant-baseline":"central",fill:"#e0102e"});});
})();

// ---- E ----
(function(){
 const g=svg.append("g");
 T(g,1193,2289,"AC vs AR",{"font-family":"Lato,sans-serif","font-size":"41px","text-anchor":"middle",fill:"#111"});
 T(g,1193,2331,"(GSEA)",{"font-family":"Lato,sans-serif","font-size":"29px","text-anchor":"middle",fill:"#222"});
 const cfg=[
 {t:["Enrichment plot:","HALLMARK_INFLAMMATORY_RESPONSE"],tx:415,bg:[119,711],L:186.5,R:702,R16:690.6,esTop:2440.7,hitTop:2656.6,es0:2625.7,esRef:[.4,2462],esT:[0,.1,.2,.3,.4],f:".1f",barTop:2727.7,barBot:2744.7,m0:2832.9,m2:2754.6,es:esInflammatory,hits:hitsInflammatory,lx:142,titleY:[2399.5,2428],legX:211},
 {t:["Enrichment plot: HALLMARK_IL2_STAT5_SIGNALING"],tx:1197,bg:[902.4,1491.8],L:978.4,R:1484.5,R16:1472.2,esTop:2412,hitTop:2640.7,es0:2624.1,esRef:[.4,2415.8],esT:[0,.05,.1,.15,.2,.25,.3,.35,.4],f:".2f",barTop:2716.7,barBot:2735.6,m0:2829.4,m2:2745.5,es:esIl2,hits:hitsIl2,lx:933,titleY:[2399.5],legX:994},
 {t:["Enrichment plot:","HALLMARK_IL6_JAK_STAT3_SIGNALING"],tx:2012,bg:[1716,2305.7],L:1796.7,R:2298.8,R16:2287,esTop:2440.7,hitTop:2656.6,es0:2619.8,esRef:[.35,2450.2],esT:[-.05,0,.05,.1,.15,.2,.25,.3,.35],f:".2f",barTop:2727.7,barBot:2744.7,m0:2832.9,m2:2754.6,es:esIl6,hits:hitsIl6,lx:1750,titleY:[2399.5,2428],legX:1809}];
 cfg.forEach((c,pi)=>{
  const p=g.append("g");
  p.append("rect").attr("x",c.bg[0]).attr("y",2378.6).attr("width",c.bg[1]-c.bg[0]).attr("height",590.4).attr("fill","#f2f2f2");
  c.t.forEach((s,i)=>T(p,c.tx,c.titleY[i],s,{"font-weight":"bold","font-size":"21.5px","text-anchor":"middle",fill:"#000"}));
  const bottom=2888.7;
  p.append("rect").attr("x",c.L).attr("y",c.esTop).attr("width",c.R-c.L).attr("height",bottom-c.esTop).attr("fill","#fff");
  const x=d3.scaleLinear([0,16000],[c.L,c.R16]);
  const y=d3.scaleLinear([0,c.esRef[0]],[c.es0,c.esRef[1]]);
  const m=d3.scaleLinear([0,2],[c.m0,c.m2]);
  const dot={stroke:"#ccc","stroke-width":1,"stroke-dasharray":"2 3"};
  function L(x1,y1,x2,y2,st){const l=p.append("line").attr("x1",x1).attr("y1",y1).attr("x2",x2).attr("y2",y2);for(const k in st)l.attr(k,st[k]);return l;}
  rankTicks.slice(1).forEach(v=>{L(x(v),c.esTop,x(v),c.hitTop,dot);L(x(v),c.barBot,x(v),bottom,dot);});
  c.esT.forEach(v=>L(c.L,y(v),c.R,y(v),dot));
  metricTicks.forEach(v=>L(c.L,m(v),c.R,m(v),dot));
  L(c.L,y(0),c.R,y(0),{stroke:"#999","stroke-width":1.2});
  // rank metric
  p.append("path").attr("d",d3.area().x(d=>x(d[0])).y0(m(0)).y1(d=>m(d[1]))(metricCurve)).attr("fill","#bdbdbd");
  p.append("rect").attr("x",x(8891)-3).attr("y",m(0)-4).attr("width",9).attr("height",8).attr("fill","#fff");
  L(x(8891),c.barBot,x(8891),bottom-18,{stroke:"#999","stroke-width":1,"stroke-dasharray":"4 3"});
  // ES
  p.append("path").attr("d",d3.line().x(d=>x(d[0])).y(d=>y(d[1]))(c.es)).attr("fill","none").attr("stroke","#1fee1f").attr("stroke-width",3.6).attr("stroke-linejoin","round");
  // hits
  L(c.L,c.hitTop,c.R,c.hitTop,{stroke:"#aaa","stroke-width":1});
  p.append("g").selectAll("line").data(c.hits).join("line").attr("x1",d=>x(d)).attr("x2",d=>x(d)).attr("y1",c.hitTop+2).attr("y2",c.barTop).attr("stroke","#111").attr("stroke-width",1.6).attr("opacity",.9);
  // ranked colour bar
  const id="rb"+pi,gr=svg.select("defs").append("linearGradient").attr("id",id);
  rankBarStops.forEach(s=>gr.append("stop").attr("offset",s[0]/15570).attr("stop-color",s[1]));
  p.append("rect").attr("x",x(0)).attr("y",c.barTop).attr("width",x(15570)-x(0)).attr("height",c.barBot-c.barTop).attr("fill",`url(#${id})`);
  p.append("g").selectAll("line").data(c.hits).join("line").attr("x1",d=>x(d)).attr("x2",d=>x(d)).attr("y1",c.barTop).attr("y2",c.barBot).attr("stroke","#000").attr("stroke-width",1).attr("opacity",.12);
  L(c.L,c.barTop,c.R,c.barTop,{stroke:"#aaa","stroke-width":1});L(c.L,c.barBot,c.R,c.barBot,{stroke:"#aaa","stroke-width":1});
  p.append("rect").attr("x",c.L).attr("y",c.esTop).attr("width",c.R-c.L).attr("height",bottom-c.esTop).attr("fill","none").attr("stroke","#b5b5b5");
  const ax=p.append("g").attr("transform",`translate(0,${bottom})`).call(d3.axisBottom(x).tickValues(rankTicks).tickFormat(d3.format(",")).tickSize(2).tickPadding(5));
  const ay=p.append("g").attr("transform",`translate(${c.L},0)`).call(d3.axisLeft(y).tickValues(c.esT).tickFormat(d3.format(c.f)).tickSize(2).tickPadding(5));
  const am=p.append("g").attr("transform",`translate(${c.L},0)`).call(d3.axisLeft(m).tickValues(metricTicks).tickFormat(d3.format(".1f")).tickSize(2).tickPadding(7));
  ax.selectAll("text").style("font-size","13.5px").attr("fill","#444").style("font-family","Liberation Sans");
  ay.selectAll("text").style("font-size","15px").attr("fill","#666").style("font-family","Liberation Sans");
  am.selectAll("text").style("font-size","12.5px").attr("fill","#444").style("font-weight","bold").style("font-family","Liberation Sans");
  [ax,ay,am].forEach(a=>{a.select(".domain").attr("stroke","#aaa");a.selectAll("line").attr("stroke","#aaa");});
  ay.select(".domain").attr("stroke","none");am.select(".domain").attr("stroke","none");
  T(p,c.L+2.5,c.barBot+10,"'1' (positively correlated)",{"font-size":"11px","font-weight":"bold",fill:"#f5556a"});
  T(p,x(8891)-22,bottom-6.5,"'0' (negatively correlated)",{"font-size":"11px","font-weight":"bold",fill:"#5a5aee"});
  T(p,x(8891),m(0)-12,"Zero cross at 8891",{"font-size":"10.5px","text-anchor":"middle",fill:"#444"});
  T(p,0,0,"Enrichment score (ES)",{"font-size":"17.5px","text-anchor":"middle",fill:"#555"}).attr("transform",`translate(${c.lx+5},${(c.esTop+c.hitTop)/2+3}) rotate(-90)`);
  T(p,0,0,"Ranked list metric (Signal2Noise)",{"font-size":"16.5px","text-anchor":"middle",fill:"#555"}).attr("transform",`translate(${c.lx+5},2816) rotate(-90)`);
  T(p,(c.L+c.R16)/2+3,2926,"Rank in Ordered Dataset",{"font-size":"15.5px","text-anchor":"middle",fill:"#333"});
  // legend
  p.append("rect").attr("x",c.legX).attr("y",2941.3).attr("width",407).attr("height",27).attr("fill","#fff").attr("stroke","#111").attr("stroke-width",1.4);
  const ly=2955;
  L(c.legX+4,ly,c.legX+22,ly,{stroke:"#1fee1f","stroke-width":2.5});
  T(p,c.legX+26,ly+5,"Enrichment profile",{"font-size":"14.3px",fill:"#444"});
  L(c.legX+151,ly,c.legX+169,ly,{stroke:"#444","stroke-width":1.8});
  T(p,c.legX+173,ly+5,"Hits",{"font-size":"14.3px",fill:"#444"});
  L(c.legX+232,ly,c.legX+250,ly,{stroke:"#ccc","stroke-width":1.8});
  T(p,c.legX+254,ly+5,"Ranking metric scores",{"font-size":"14.3px",fill:"#444"});
 });
 // tables
 [{x0:50.5,x1:808,hc:429,vx:450,lx:57.4,h:"HALLMARK_INFLAMMATORY_RESPONSE",v:tableInflammatory},
  {x0:832,x1:1590,hc:1185,vx:1230,lx:840,h:"HALLMARK_IL2_STAT5_SIGNALING",v:tableIl2},
  {x0:1613,x1:2353,hc:1988,vx:2008,lx:1617,h:"HALLMARK_IL6_JAK_STAT3_SIGNALING",v:tableIl6}].forEach(t=>{
  [2987,3028,3230.7].forEach(y=>g.append("line").attr("x1",t.x0).attr("x2",t.x1).attr("y1",y).attr("y2",y).attr("stroke","#222").attr("stroke-width",3));
  T(g,t.hc,3015,t.h,{"font-weight":"bold","font-size":"22px","text-anchor":"middle",fill:"#111"});
  [3055,3096,3137,3177,3217].forEach((y,i)=>{T(g,t.lx,y,tableLabels[i],{"font-size":"23px",fill:"#222"});T(g,t.vx,y,t.v[i],{"font-size":"23px",fill:"#222"});});
 });
})();
</script></body></html>
